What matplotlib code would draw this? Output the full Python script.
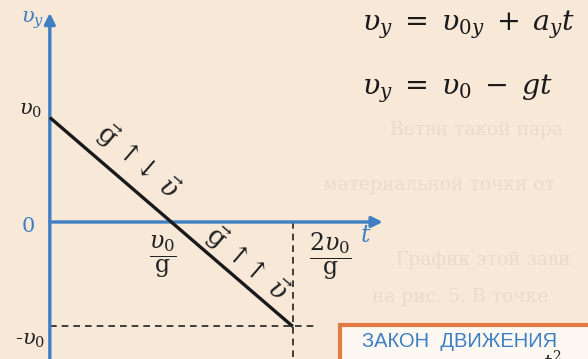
import matplotlib
matplotlib.use('Agg')
import matplotlib.pyplot as plt
from matplotlib.patches import Rectangle

plt.rcParams['mathtext.fontset'] = 'dejavuserif'
plt.rcParams['font.family'] = ['DejaVu Serif']

# v_y(t) = v0 - g*t  (t in units of v0/g, v in units of v0)
t_pts = [0, 1, 2]
v_pts = [1, 0, -1]
t_ticks = [1, 2]
t_labels = [r'$\dfrac{\upsilon_0}{\mathrm{g}}$', r'$\dfrac{2\upsilon_0}{\mathrm{g}}$']
v_ticks = [1, 0, -1]
v_labels = [r'$\upsilon_0$', '0', r'-$\upsilon_0$']
formulas = [r'$\upsilon_y\;=\;\upsilon_{0y}\;+\;a_y t$', r'$\upsilon_y\;=\;\upsilon_0\;-\;gt$']
bleed = ['Ветви такой пара',
         'материальной точки от',
         'График этой зави',
         'на рис. 5. В точке']

blue = '#3f7fc3'
bg = '#f7e8d8'

fig = plt.figure(figsize=(5.88, 3.59), dpi=100)
fig.patch.set_facecolor(bg)
ax = fig.add_axes([0, 0, 1, 1])
ax.set_facecolor(bg)
ax.set_xlim(-0.41, 4.43)
ax.set_ylim(-1.311, 2.124)
ax.axis('off')

# faint see-through text from the other side of the page
for y, x, s in zip([0.88, 0.35, -0.36, -0.72], [2.8, 2.25, 2.85, 2.65], bleed):
    ax.text(x, y, s, color='#ecdacb', fontsize=13.5, va='center', family='DejaVu Serif', zorder=0)

# axes with arrows
ax.annotate('', xy=(2.74, 0), xytext=(0, 0),
            arrowprops=dict(arrowstyle='-|>', color=blue, lw=2.4, mutation_scale=16, shrinkA=0, shrinkB=0))
ax.annotate('', xy=(0, 2.0), xytext=(0, -1.35),
            arrowprops=dict(arrowstyle='-|>', color=blue, lw=2.4, mutation_scale=16, shrinkA=0, shrinkB=0))

# graph
ax.plot(t_pts, v_pts, color='#1a1a1a', lw=2.4, solid_capstyle='butt', zorder=3)
ax.plot([t_pts[-1], t_pts[-1]], [0, -1.4], color='#222222', lw=1.2, ls=(0, (4, 3)))
ax.plot([0, 2.18], [v_pts[-1], v_pts[-1]], color='#222222', lw=1.2, ls=(0, (4, 3)))

# tick labels
for v, lab in zip(v_ticks, v_labels):
    col = blue if v == 0 else '#222222'
    off = {1: 0.07, 0: -0.04, -1: -0.13}[v]
    x = -0.18 if v == 0 else -0.16
    ax.text(x, v + off, lab, color=col, fontsize=15, ha='center', va='center')
for t, lab in zip(t_ticks, t_labels):
    ax.text(t - 0.07 + 0.38 * (t - 1), -0.33, lab, color='#222222', fontsize=17, ha='center', va='center')

ax.text(-0.14, 1.93, r'$\upsilon_y$', color=blue, fontsize=15, ha='center', va='center')
ax.text(2.60, -0.13, r'$t$', color=blue, fontsize=17, ha='center', va='center')

# direction labels along the line
ax.text(0.72, 0.58, r'$\vec{\mathrm{g}}\,\uparrow\!\!\downarrow\,\vec{\upsilon}$', fontsize=19, color='#222222',
        rotation=-45, transform_rotates_text=True, rotation_mode='anchor', ha='center', va='center')
ax.text(1.62, -0.39, r'$\vec{\mathrm{g}}\,\uparrow\!\!\uparrow\,\vec{\upsilon}$', fontsize=19, color='#222222',
        rotation=-45, transform_rotates_text=True, rotation_mode='anchor', ha='center', va='center')

# formulas
for y, f in zip([1.885, 1.27], formulas):
    ax.text(2.568, y, f, fontsize=20.5, color='#1a1a1a', ha='left', va='center')

# box
ax.add_patch(Rectangle((2.387, -0.986), 3, -1, facecolor='#fdf8f2', edgecolor='#e27a44', lw=3, zorder=4))
ax.text(2.568, -1.148, 'ЗАКОН  ДВИЖЕНИЯ', family='Liberation Sans', fontsize=14.5, color=blue,
        ha='left', va='center', zorder=5)
ax.text(4.06, -1.225, r'$t^2$', fontsize=14, color='#222222', ha='left', va='top', zorder=5)

fig.savefig('out.png', dpi=100, facecolor=bg)
